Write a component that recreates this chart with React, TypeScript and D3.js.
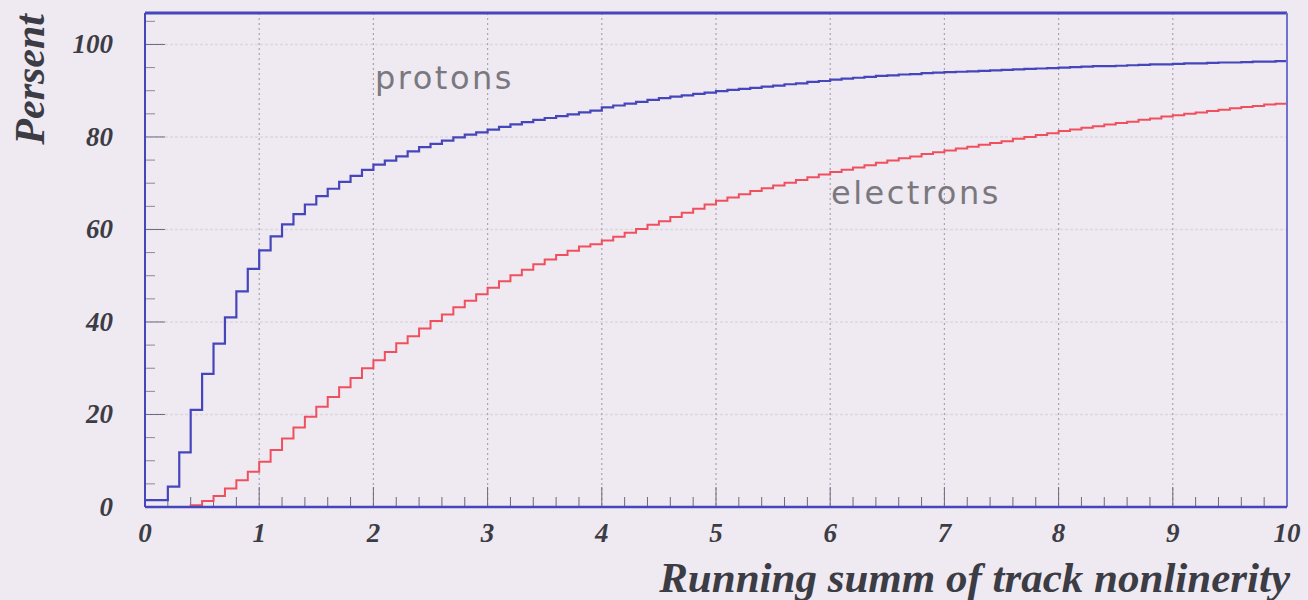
import * as d3 from 'd3'

// bin lower edges: 0.0, 0.1, ... 9.9 (width 0.1)
const binWidth = 0.1
const protons = [
  1.5, 1.5, 4.4, 11.8, 21.0, 28.8, 35.3, 41.0, 46.6, 51.5,
  55.5, 58.5, 61.1, 63.3, 65.4, 67.2, 68.8, 70.3, 71.6, 72.9,
  74.0, 74.9, 75.8, 76.9, 77.8, 78.5, 79.2, 79.9, 80.5, 81.0,
  81.6, 82.2, 82.7, 83.2, 83.7, 84.1, 84.5, 84.9, 85.3, 85.7,
  86.4, 86.8, 87.2, 87.6, 88.0, 88.4, 88.7, 89.0, 89.3, 89.6,
  89.9, 90.2, 90.4, 90.6, 90.9, 91.1, 91.4, 91.6, 91.9, 92.1,
  92.4, 92.6, 92.8, 93.0, 93.2, 93.3, 93.5, 93.6, 93.8, 93.9,
  94.0, 94.1, 94.2, 94.3, 94.4, 94.5, 94.6, 94.7, 94.8, 94.9,
  95.0, 95.1, 95.2, 95.3, 95.3, 95.4, 95.5, 95.6, 95.7, 95.7,
  95.8, 95.9, 95.9, 96.0, 96.1, 96.1, 96.2, 96.3, 96.3, 96.4,
]
const electrons = [
  0, 0, 0, 0, 0.4, 1.3, 2.4, 4.0, 5.8, 7.6,
  9.8, 12.3, 14.8, 17.2, 19.5, 21.7, 23.8, 25.9, 27.9, 30.0,
  31.7, 33.5, 35.4, 36.9, 38.6, 40.2, 41.6, 43.2, 44.6, 46.0,
  47.4, 48.8, 50.1, 51.3, 52.5, 53.5, 54.5, 55.4, 56.3, 56.8,
  57.6, 58.4, 59.3, 60.1, 61.0, 61.8, 62.7, 63.6, 64.5, 65.4,
  66.2, 66.9, 67.6, 68.3, 68.9, 69.5, 70.1, 70.7, 71.3, 71.9,
  72.4, 72.9, 73.4, 73.9, 74.4, 74.9, 75.4, 75.8, 76.3, 76.7,
  77.1, 77.5, 77.9, 78.3, 78.7, 79.1, 79.6, 80.0, 80.4, 80.8,
  81.3, 81.6, 82.0, 82.3, 82.7, 83.0, 83.3, 83.7, 84.0, 84.4,
  84.7, 85.0, 85.3, 85.6, 85.9, 86.2, 86.5, 86.7, 87.0, 87.2,
]
const xTicks = [0, 1, 2, 3, 4, 5, 6, 7, 8, 9, 10]
const yTicks = [0, 20, 40, 60, 80, 100]

const W = 1308
const H = 600
const left = 145
const right = 1287
const top = 13
const bottom = 507

const blue = '#4646bc'
const red = '#f0505e'
const labelFont = '"Liberation Serif", "DejaVu Serif", serif'

export default function App() {
  const x = d3.scaleLinear().domain([0, 10]).range([left, right])
  const y = d3.scaleLinear().domain([0, 106.8]).range([bottom, top])

  const stepPath = (vals: number[]) => {
    const pts: [number, number][] = vals.map((v, i) => [i * binWidth, v])
    pts.push([vals.length * binWidth, vals[vals.length - 1]])
    return d3.line<[number, number]>()
      .x((d) => x(d[0]))
      .y((d) => y(d[1]))
      .curve(d3.curveStepAfter)(pts) || ''
  }

  const xMinor = d3.range(0, 10.001, 0.2).filter((v) => Math.abs(v - Math.round(v)) > 0.01)
  const yMinor = d3.range(0, 106, 5).filter((v) => v % 20 !== 0)

  return (
    <div style={{ position: 'absolute', left: 0, top: 0 }}>
      <svg width={W} height={H} style={{ display: 'block', background: '#efe9f1' }}>
        {/* grid */}
        {yTicks.filter((t) => t > 0).map((t) => (
          <line key={'hg' + t} x1={left} x2={right} y1={y(t)} y2={y(t)}
            stroke="#dcd6e0" strokeWidth={1.5} strokeDasharray="3,2" />
        ))}
        {xTicks.filter((t) => t > 0 && t < 10).map((t) => (
          <line key={'vg' + t} x1={x(t)} x2={x(t)} y1={top} y2={bottom}
            stroke="#a8a4ae" strokeWidth={1.2} strokeDasharray="2,3" />
        ))}

        {/* ticks */}
        {xTicks.map((t) => (
          <line key={'xt' + t} x1={x(t)} x2={x(t)} y1={bottom} y2={bottom - 20}
            stroke="#6a6a80" strokeWidth={1} />
        ))}
        {xMinor.map((t) => (
          <line key={'xm' + t} x1={x(t)} x2={x(t)} y1={bottom} y2={bottom - 10}
            stroke="#6a6a80" strokeWidth={1} />
        ))}
        {yTicks.map((t) => (
          <line key={'yt' + t} x1={left} x2={left + 20} y1={y(t)} y2={y(t)}
            stroke="#6a6a80" strokeWidth={1} />
        ))}
        {yMinor.map((t) => (
          <line key={'ym' + t} x1={left} x2={left + 10} y1={y(t)} y2={y(t)}
            stroke="#8a8a9a" strokeWidth={1} />
        ))}

        {/* histograms */}
        <path d={stepPath(electrons)} fill="none" stroke={red} strokeWidth={2} />
        <path d={stepPath(protons)} fill="none" stroke={blue} strokeWidth={2.2} />

        {/* frame */}
        <line x1={left} x2={right} y1={top} y2={top} stroke={blue} strokeWidth={3} />
        <line x1={left} x2={left} y1={top} y2={bottom} stroke={blue} strokeWidth={2} />
        <line x1={right} x2={right} y1={top} y2={bottom} stroke="#7070d0" strokeWidth={2} />
        <line x1={left} x2={right} y1={bottom} y2={bottom} stroke={blue} strokeWidth={2.5} />

        {/* tick labels */}
        {xTicks.map((t) => (
          <text key={'xl' + t} x={x(t)} y={bottom + 35} textAnchor="middle"
            fontFamily={labelFont} fontStyle="italic" fontWeight="bold" fontSize={27} fill="#3c3c44">
            {t}
          </text>
        ))}
        {yTicks.map((t) => (
          <text key={'yl' + t} x={left - 32} y={y(t) + 9} textAnchor="end"
            fontFamily={labelFont} fontStyle="italic" fontWeight="bold" fontSize={27} fill="#3c3c44">
            {t}
          </text>
        ))}

        {/* axis titles */}
        <text x={right + 3} y={592} textAnchor="end"
          fontFamily={labelFont} fontStyle="italic" fontWeight="bold" fontSize={43} fill="#3c3c44">
          Running summ of track nonlinerity
        </text>
        <text transform={`translate(44,14) rotate(-90)`} textAnchor="end"
          fontFamily={labelFont} fontStyle="italic" fontWeight="bold" fontSize={42} fill="#3c3c44">
          Persent
        </text>

        {/* curve labels */}
        <text x={375} y={89} fontFamily='"DejaVu Sans", sans-serif' fontSize={32}
          letterSpacing={2.5} fill="#7a787e">protons</text>
        <text x={831} y={204} fontFamily='"DejaVu Sans", sans-serif' fontSize={32}
          letterSpacing={2.5} fill="#7a787e">electrons</text>
      </svg>
    </div>
  )
}
